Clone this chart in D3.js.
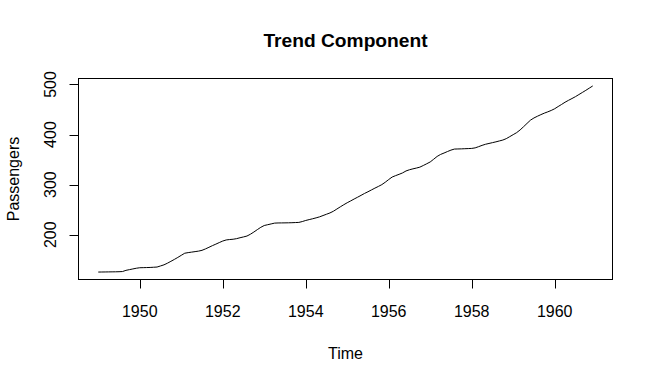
<!DOCTYPE html>
<html>
<head>
<meta charset="utf-8">
<script src="https://cdn.jsdelivr.net/npm/d3@7"></script>
<style>
  html, body { margin: 0; padding: 0; background: #fff; }
  svg { display: block; font-family: 'Liberation Sans', Arial, sans-serif; }
</style>
</head>
<body>
<div id="chart"></div>
<script>

// Trend component, monthly, Jan 1949 .. Dec 1960
const startYear = 1949;
const frequency = 12;
const trend = [
  125.5, 125.6, 125.7, 125.8, 125.9, 126.0, 126.2, 126.5, 128.9, 130.3, 131.7, 133.1,
  134.1, 134.3, 134.5, 134.7, 135.1, 135.5, 137.7, 139.9, 143.2, 146.9, 150.7, 154.7,
  158.9, 163.1, 164.3, 165.3, 166.3, 167.3, 168.9, 171.7, 174.9, 178.2, 181.2, 184.4,
  187.4, 189.6, 190.4, 191.0, 192.2, 194.0, 195.6, 197.4, 201.0, 205.4, 210.2, 214.8,
  218.4, 220.0, 221.6, 223.2, 223.5, 223.6, 223.7, 223.8, 224.0, 224.3, 224.6, 226.3,
  228.5, 230.2, 231.9, 233.7, 235.7, 238.3, 240.9, 243.5, 246.9, 251.3, 255.7, 259.9,
  263.9, 267.5, 271.3, 274.9, 278.6, 282.4, 285.8, 289.4, 293.0, 296.4, 300.0, 304.8,
  310.2, 315.2, 318.0, 320.6, 323.4, 327.3, 329.7, 331.5, 333.1, 334.9, 338.2, 341.7,
  345.3, 350.7, 356.3, 360.3, 363.1, 366.1, 368.9, 371.0, 371.2, 371.4, 371.7, 372.0,
  372.3, 373.4, 375.8, 378.4, 380.6, 382.2, 383.8, 385.4, 387.2, 389.0, 391.8, 395.8,
  399.8, 403.8, 409.2, 415.6, 422.2, 428.7, 433.1, 436.5, 439.7, 442.7, 445.3, 448.1,
  451.5, 455.9, 460.1, 464.5, 468.3, 471.9, 475.6, 479.8, 484.0, 488.2, 492.6, 497.0
];
const xTicks = [1950, 1952, 1954, 1956, 1958, 1960];
const yTicks = [200, 300, 400, 500];

const title  = 'Trend Component';
const xLabel = 'Time';
const yLabel = 'Passengers';

const width = 653, height = 377;
const plot = { left: 78.5, right: 612.5, top: 78.5, bottom: 279.5 };
const tickLen = 9;

// ━━━━━━━━━━━━━━━━━━━━━━━━━━━━━━━━━━━━━━━━━━━━━━━━━━━━━━━━━━━━━━━━
// Data + scales (R style: 4% padding on each side) //////////////////
// ━━━━━━━━━━━━━━━━━━━━━━━━━━━━━━━━━━━━━━━━━━━━━━━━━━━━━━━━━━━━━━━━

const series = trend.map((v, i) => ({ t: startYear + i / frequency, v }));

const pad = ([a, b]) => [a - (b - a) * 0.04, b + (b - a) * 0.04];

const x = d3.scaleLinear()
  .domain(pad(d3.extent(series, d => d.t)))
  .range([plot.left, plot.right]);

const y = d3.scaleLinear()
  .domain(pad(d3.extent(series, d => d.v)))
  .range([plot.bottom, plot.top]);

// ━━━━━━━━━━━━━━━━━━━━━━━━━━━━━━━━━━━━━━━━━━━━━━━━━━━━━━━━━━━━━━━━
// SVG setup /////////////////////////////////////////////////////////
// ━━━━━━━━━━━━━━━━━━━━━━━━━━━━━━━━━━━━━━━━━━━━━━━━━━━━━━━━━━━━━━━━

const svg = d3.select('#chart').append('svg')
  .attr('width', width)
  .attr('height', height)
  .attr('viewBox', [0, 0, width, height]);

svg.append('rect').attr('width', width).attr('height', height).attr('fill', '#fff');

const   xAxis = svg.append('g').attr('id', 'x-axis');
const   yAxis = svg.append('g').attr('id', 'y-axis');
const    line = svg.append('g').attr('id', 'trend');
const    box  = svg.append('g').attr('id', 'box');
const  labels = svg.append('g').attr('id', 'labels');

// line
line.append('path')
  .datum(series)
  .attr('fill', 'none')
  .attr('stroke', '#000')
  .attr('stroke-width', 1)
  .attr('d', d3.line().x(d => x(d.t)).y(d => y(d.v)));

// plot frame
box.append('rect')
  .attr('x', plot.left)
  .attr('y', plot.top)
  .attr('width', plot.right - plot.left)
  .attr('height', plot.bottom - plot.top)
  .attr('fill', 'none')
  .attr('stroke', '#000')
  .attr('stroke-width', 1);

// x axis (R draws the axis line only between the first and last tick)
const xr = v => Math.round(x(v)) + 0.5;
xAxis.append('line')
  .attr('x1', xr(xTicks[0])).attr('x2', xr(xTicks[xTicks.length - 1]))
  .attr('y1', plot.bottom + 1).attr('y2', plot.bottom + 1)
  .attr('stroke', 'none');

xAxis.selectAll('line.tick')
  .data(xTicks)
  .join('line')
  .attr('class', 'tick')
  .attr('x1', d => xr(d)).attr('x2', d => xr(d))
  .attr('y1', plot.bottom).attr('y2', plot.bottom + tickLen)
  .attr('stroke', '#000');

xAxis.selectAll('text')
  .data(xTicks)
  .join('text')
  .attr('x', d => x(d))
  .attr('y', 317)
  .attr('text-anchor', 'middle')
  .attr('font-size', 16)
  .attr('fill', '#000')
  .text(d => d);

// y axis
const yr = v => Math.round(y(v)) + 0.5;
yAxis.selectAll('line')
  .data(yTicks)
  .join('line')
  .attr('x1', plot.left - tickLen).attr('x2', plot.left)
  .attr('y1', d => yr(d)).attr('y2', d => yr(d))
  .attr('stroke', '#000');

yAxis.selectAll('text')
  .data(yTicks)
  .join('text')
  .attr('transform', d => `translate(55.5,${y(d)}) rotate(-90)`)
  .attr('text-anchor', 'middle')
  .attr('font-size', 16)
  .attr('fill', '#000')
  .text(d => d);

// titles
const cx = (plot.left + plot.right) / 2;
const cy = (plot.top + plot.bottom) / 2;

labels.append('text')
  .attr('x', cx).attr('y', 46.7)
  .attr('text-anchor', 'middle')
  .attr('font-size', 19.2)
  .attr('font-weight', 'bold')
  .text(title);

labels.append('text')
  .attr('x', cx).attr('y', 359)
  .attr('text-anchor', 'middle')
  .attr('font-size', 16)
  .text(xLabel);

labels.append('text')
  .attr('transform', `translate(18.5,${cy}) rotate(-90)`)
  .attr('text-anchor', 'middle')
  .attr('font-size', 16)
  .text(yLabel);

</script>
</body>
</html>
